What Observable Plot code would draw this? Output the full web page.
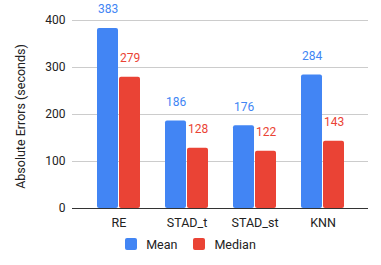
<!DOCTYPE html>
<html>
<head>
<meta charset="utf-8">
<script src="https://cdn.jsdelivr.net/npm/d3@7"></script>
<script src="https://cdn.jsdelivr.net/npm/@observablehq/plot@0.6"></script>
<style>
  body { margin: 0; background: #fff; font-family: Roboto, "Noto Sans", sans-serif; }
  #chart { width: 381px; }
  .legend { display: flex; justify-content: center; align-items: center; height: 24px; font-size: 12.5px; color: #222; }
  .legend .item { display: flex; align-items: center; margin: 0 8px; }
  .legend .sw { width: 12px; height: 12px; border-radius: 2px; margin-right: 9px; }
</style>
</head>
<body>
<div id="chart"></div>
<script>
const categories = ["RE", "STAD_t", "STAD_st", "KNN"];
const series = ["Mean", "Median"];
const meanValues = [383, 186, 176, 284];
const medianValues = [279, 128, 122, 143];
const yTicks = [0, 100, 200, 300, 400];
const colors = ["#4285F4", "#EA4335"];

const meanData = categories.map((c, i) => ({category: c, series: "Mean", value: meanValues[i]}));
const medianData = categories.map((c, i) => ({category: c, series: "Median", value: medianValues[i]}));

const plot = Plot.plot({
  width: 381,
  height: 232,
  marginLeft: 72,
  marginRight: 13,
  marginTop: 20,
  marginBottom: 24,
  style: {fontFamily: "Roboto, sans-serif", fontSize: "12px", color: "#222", background: "#fff"},
  x: {domain: categories, paddingInner: 0.368, paddingOuter: 0.36, label: null},
  y: {domain: [0, 400], label: null},
  color: {domain: series, range: colors},
  marks: [
    Plot.ruleY(yTicks.slice(1), {stroke: "#ccc", strokeWidth: 1}),
    Plot.barY(meanData, {x: "category", y: "value", fill: "series", insetRight: 22, rx: 2}),
    Plot.barY(medianData, {x: "category", y: "value", fill: "series", insetLeft: 22, rx: 2}),
    Plot.ruleY([0], {stroke: "#333", strokeWidth: 1.2}),
    Plot.text(meanData, {x: "category", y: "value", text: d => String(d.value), fill: "series", dx: -11, dy: -19, fontSize: 12}),
    Plot.text(medianData, {x: "category", y: "value", text: d => String(d.value), fill: "series", dx: 11, dy: -19, fontSize: 12}),
    Plot.axisY({ticks: yTicks, tickSize: 0, tickPadding: 7, label: null, fontSize: 12}),
    Plot.axisX({tickSize: 0, tickPadding: 10, label: null, fontSize: 12.5}),
    Plot.text(["Absolute Errors (seconds)"], {frameAnchor: "left", textAnchor: "middle", dx: -52, dy: 2, rotate: -90, fontSize: 12.5, fill: "#222"})
  ]
});
document.getElementById("chart").appendChild(plot);

const legend = document.createElement("div");
legend.className = "legend";
series.forEach((s, i) => {
  const item = document.createElement("div");
  item.className = "item";
  const sw = document.createElement("div");
  sw.className = "sw";
  sw.style.background = colors[i];
  const lab = document.createElement("span");
  lab.textContent = s;
  item.appendChild(sw);
  item.appendChild(lab);
  legend.appendChild(item);
});
document.getElementById("chart").appendChild(legend);
</script>
</body>
</html>
